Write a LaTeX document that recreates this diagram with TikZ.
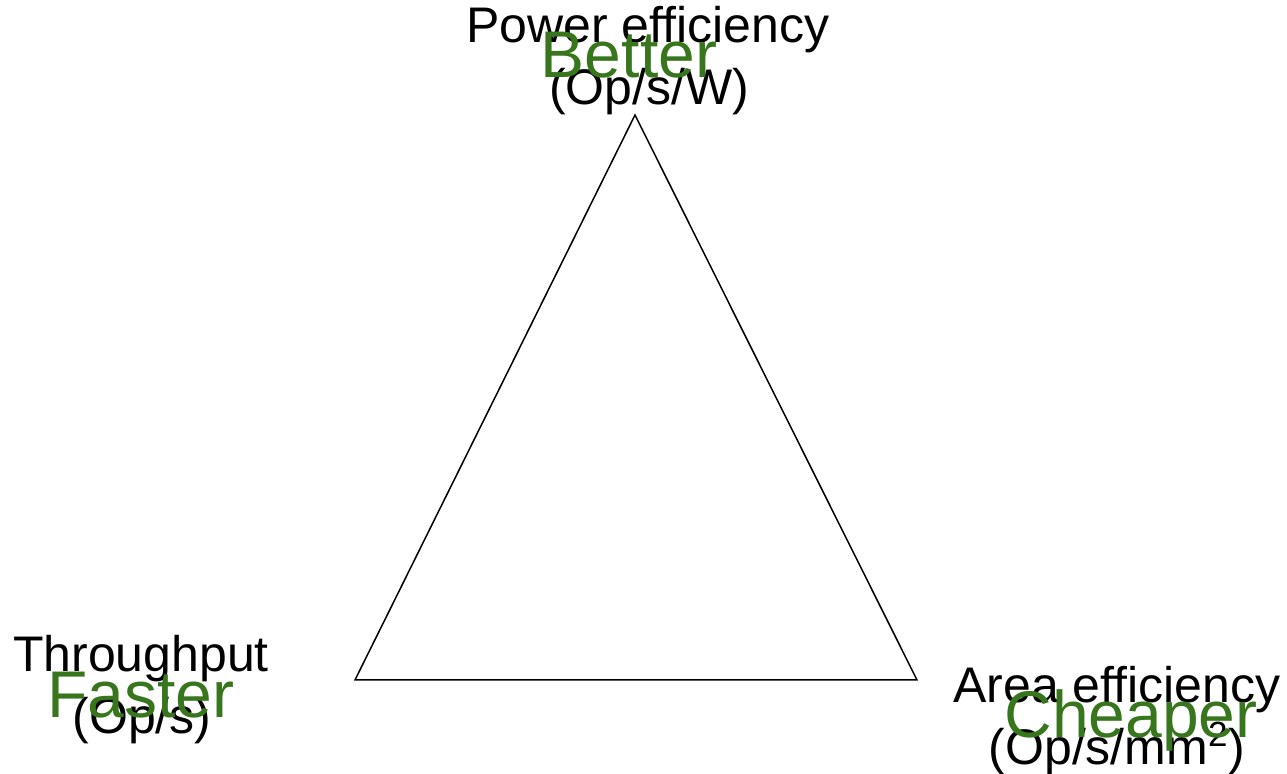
\documentclass[tikz,border=0pt]{standalone}
\usepackage{fontspec}
\setmainfont{Liberation Sans}
\usepackage{xcolor}
\usepackage{tikz}
\usetikzlibrary{positioning}

\definecolor{goodgreen}{RGB}{56,118,29}

\begin{document}
\begin{tikzpicture}[
    x=0.5pt, y=-0.5pt,
    metric/.style={anchor=base, inner sep=0pt, font=\fontsize{25}{31}\selectfont},
    gain/.style={anchor=base, inner sep=0pt, text=goodgreen, font=\fontsize{33}{40}\selectfont},
    edge/.style={line width=0.75pt, line join=miter}
]
    \useasboundingbox (0,0) rectangle (1287,774);

    % Corners of the triangle
    \coordinate (top)   at (635,115);
    \coordinate (left)  at (355,680);
    \coordinate (right) at (917,680);
    \draw [edge] (top) -- (left) -- (right) -- cycle;

    % Top corner: power
    \node (power)     [metric] at (648,43)  {Power efficiency};
    \node (powerunit) [metric] at (649,105) {(Op/s/W)};
    \node (better)    [gain]   at (629,78)  {Better};

    % Left corner: throughput
    \node (thru)     [metric] at (141,672) {Throughput};
    \node (thruunit) [metric] at (142,734) {(Op/s)};
    \node (faster)   [gain]   at (141,718) {Faster};

    % Right corner: area
    \node (area)     [metric] at (1117,703) {Area efficiency};
    \node (areaunit) [metric] at (1117,765) {(Op/s/mm\textsuperscript{2})};
    \node (cheaper)  [gain]   at (1131,738) {Cheaper};

\end{tikzpicture}
\end{document}
